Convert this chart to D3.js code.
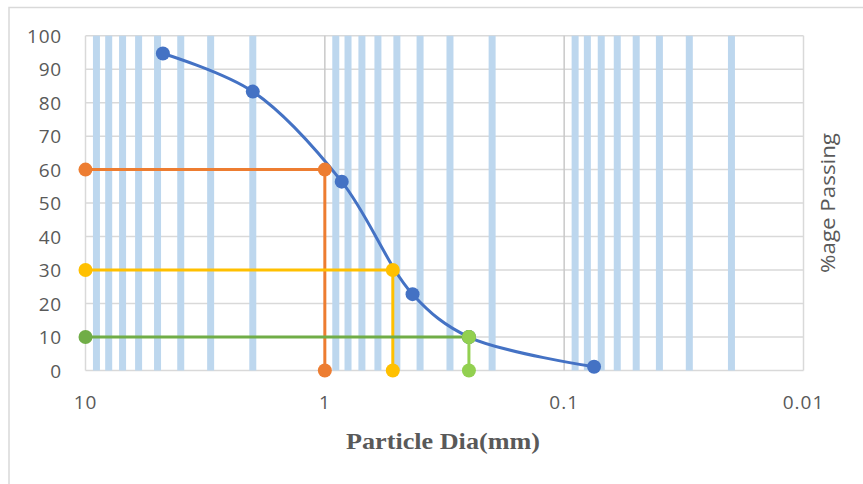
<!DOCTYPE html>
<html>
<head>
<meta charset="utf-8">
<script src="https://cdn.jsdelivr.net/npm/d3@7"></script>
<style>
  html, body { margin: 0; padding: 0; background: #fff; }
  svg { display: block; }
</style>
</head>
<body>
<svg id="chart" width="863" height="484"></svg>
<script>
// ---- data ----
const xTickValues = [10, 1, 0.1, 0.01];
const xTickLabels = ["10", "1", "0.1", "0.01"];
const yTickValues = [0, 10, 20, 30, 40, 50, 60, 70, 80, 90, 100];

const sieveSize = [4.75, 2.0, 0.85, 0.43, 0.25, 0.075];
const percentPassing = [94.7, 83.3, 56.4, 22.8, 10, 1.1];

const d60X = [10, 1, 1];
const d60Y = [60, 60, 0];
const d30X = [10, 0.52, 0.52];
const d30Y = [30, 30, 0];
const d10X = [10, 0.25];
const d10Y = [10, 10];
const d10DropX = [0.25, 0.25];
const d10DropY = [10, 0];

const xTitle = "Particle Dia(mm)";
const yTitle = "%age Passing";

// ---- drawing ----
const svg = d3.select("#chart");
const x = d3.scaleLog().domain([10, 0.01]).range([85.5, 803.5]);
const y = d3.scaleLinear().domain([0, 100]).range([370.5, 35.7]);

// outer chart border
svg.append("rect").attr("x", 9).attr("y", 7.5).attr("width", 900).attr("height", 600)
  .attr("fill", "none").attr("stroke", "#D9D9D9").attr("stroke-width", 1.5);

// horizontal gridlines
svg.append("g").selectAll("line").data(yTickValues).join("line")
  .attr("x1", x(10)).attr("x2", x(0.01))
  .attr("y1", d => y(d)).attr("y2", d => y(d))
  .attr("stroke", "#D9D9D9").attr("stroke-width", 1.5);

// minor vertical gridlines (light blue bands)
const minor = x.ticks().filter(v => {
  const l = Math.log10(v);
  return Math.abs(l - Math.round(l)) > 1e-6;
});
svg.append("g").selectAll("line").data(minor).join("line")
  .attr("x1", d => x(d)).attr("x2", d => x(d))
  .attr("y1", y(100)).attr("y2", y(0))
  .attr("stroke", "#BDD7EE").attr("stroke-width", 7);

// major vertical gridlines
svg.append("g").selectAll("line").data(xTickValues).join("line")
  .attr("x1", d => x(d)).attr("x2", d => x(d))
  .attr("y1", y(100)).attr("y2", y(0))
  .attr("stroke", (d, i) => (i === 0 || i === xTickValues.length - 1) ? "#D9D9D9" : "#C9C9C9")
  .attr("stroke-width", 1.5);

// axis labels
const labelFont = "'Open Sans', sans-serif";
svg.append("g").selectAll("text").data(yTickValues).join("text")
  .attr("x", 62).attr("y", d => y(d))
  .attr("text-anchor", "end").attr("dominant-baseline", "central")
  .attr("font-family", labelFont).attr("font-size", 19).attr("fill", "#595959")
  .attr("letter-spacing", 0.8)
  .text(d => d);

svg.append("g").selectAll("text").data(xTickValues).join("text")
  .attr("x", d => x(d)).attr("y", 402)
  .attr("text-anchor", "middle").attr("dominant-baseline", "central")
  .attr("font-family", labelFont).attr("font-size", 19).attr("fill", "#595959")
  .attr("letter-spacing", 1)
  .text((d, i) => xTickLabels[i]);

svg.append("text").attr("x", 443).attr("y", 441)
  .attr("text-anchor", "middle").attr("dominant-baseline", "central")
  .attr("font-family", "'Liberation Serif', 'Times New Roman', serif")
  .attr("font-weight", "bold").attr("font-size", 23).attr("fill", "#595959")
  .attr("textLength", 194).attr("lengthAdjust", "spacingAndGlyphs")
  .text(xTitle);

svg.append("text")
  .attr("transform", `translate(827,203) rotate(-90)`)
  .attr("text-anchor", "middle").attr("dominant-baseline", "central")
  .attr("font-family", labelFont).attr("font-size", 20).attr("fill", "#595959")
  .attr("textLength", 140).attr("lengthAdjust", "spacingAndGlyphs")
  .text(yTitle);

// series
function series(xs, ys, color, curve) {
  const pts = xs.map((v, i) => [v, ys[i]]);
  svg.append("path").datum(pts)
    .attr("d", d3.line().x(d => x(d[0])).y(d => y(d[1])).curve(curve))
    .attr("fill", "none").attr("stroke", color).attr("stroke-width", 3)
    .attr("stroke-linejoin", "round");
  svg.append("g").selectAll("circle").data(pts).join("circle")
    .attr("cx", d => x(d[0])).attr("cy", d => y(d[1])).attr("r", 7)
    .attr("fill", color);
}

series(sieveSize, percentPassing, "#4472C4", d3.curveCatmullRom.alpha(0.5));
series(d60X, d60Y, "#ED7D31", d3.curveLinear);
series(d30X, d30Y, "#FFC000", d3.curveLinear);
series(d10X, d10Y, "#70AD47", d3.curveLinear);
series(d10DropX, d10DropY, "#92D050", d3.curveLinear);
</script>
</body>
</html>
